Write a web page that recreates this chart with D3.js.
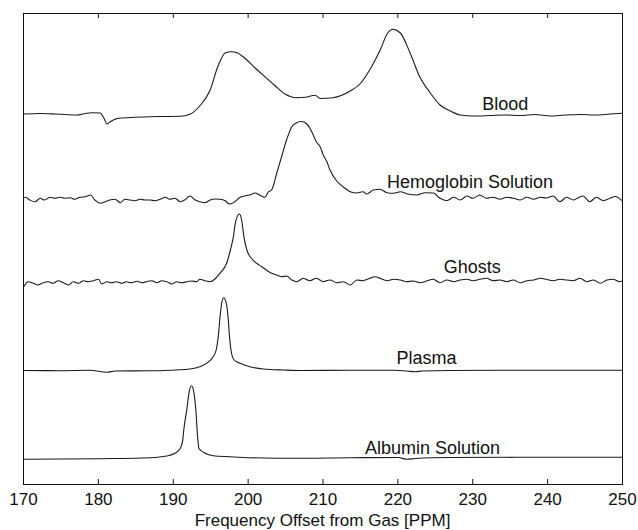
<!DOCTYPE html>
<html>
<head>
<meta charset="utf-8">
<script src="https://cdn.jsdelivr.net/npm/d3@7"></script>
<style>
  body { margin: 0; background: #fff; }
  text { font-family: Arial, "Liberation Sans", Helvetica, sans-serif; fill: #111; }
</style>
</head>
<body>
<div id="chart"></div>
<script>
// spectra: ppm positions and intensity above each trace's baseline
var bloodPpm = [170.0, 172.3, 174.3, 175.6, 177.2, 178.3, 179.2, 180.3, 180.8, 181.2, 181.6, 182.6, 184.3, 187.0, 189.0, 191.0, 192.3, 193.6, 195.0, 196.0, 197.0, 197.8, 198.6, 199.6, 201.0, 202.3, 203.7, 205.0, 206.5, 207.7, 209.0, 209.7, 211.4, 213.7, 215.0, 216.3, 217.7, 218.7, 219.4, 220.4, 221.7, 223.0, 224.4, 225.7, 227.0, 228.4, 230.1, 232.4, 234.4, 236.4, 238.4, 240.4, 242.4, 244.4, 246.4, 248.4, 250.0];
var bloodVal = [0, 0.05, 0, -0.05, -0.1, 0.05, 0.13, 0.1, -0.4, -1.0, -0.8, -0.45, -0.35, -0.27, -0.25, -0.23, -0.03, 0.8, 2.4, 4.7, 6.1, 6.23, 6.13, 5.6, 4.6, 3.73, 2.8, 2.0, 1.63, 1.67, 1.87, 1.55, 1.63, 2.3, 3.0, 4.4, 6.4, 8.1, 8.47, 8.1, 6.1, 3.7, 2.1, 0.9, 0.33, -0.1, -0.2, -0.15, -0.1, -0.15, -0.05, -0.2, -0.1, -0.05, -0.1, 0, 0.07];

var hemoPpm = [170.0, 170.3, 170.9, 171.6, 172.3, 172.9, 173.6, 174.3, 174.9, 175.6, 176.3, 176.9, 177.6, 178.3, 179.0, 179.6, 180.3, 181.0, 181.6, 182.3, 183.0, 183.6, 184.3, 185.0, 185.6, 186.3, 187.0, 187.6, 188.3, 189.0, 189.6, 190.3, 191.0, 191.6, 192.3, 193.0, 193.6, 194.3, 195.0, 195.6, 196.3, 197.0, 197.6, 198.3, 199.0, 199.6, 200.3, 201.0, 201.6, 202.3, 202.8, 203.2, 203.9, 204.6, 205.2, 205.9, 206.5, 207.0, 207.4, 207.9, 208.3, 208.7, 209.2, 209.7, 210.1, 210.6, 211.0, 211.9, 212.8, 213.7, 214.6, 215.4, 215.9, 216.8, 217.7, 218.6, 219.5, 220.4, 221.4, 222.6, 223.7, 224.8, 225.7, 226.6, 227.5, 228.4, 229.3, 230.1, 231.0, 231.9, 232.8, 233.7, 234.6, 235.5, 236.4, 237.3, 238.2, 239.1, 239.9, 240.8, 241.7, 242.6, 243.5, 244.1, 244.8, 245.7, 246.6, 247.5, 248.4, 249.1, 250.0];
var hemoVal = [0.1, 0.17, -0.1, -0.27, 0.07, -0.1, 0.17, 0.07, 0.17, 0.07, 0.13, -0.03, 0.17, 0.23, 0.4, -0.1, -0.43, -0.27, -0.1, -0.03, -0.37, -0.03, -0.1, -0.17, -0.03, -0.1, -0.1, -0.17, -0.03, 0.17, -0.03, 0.07, -0.27, -0.1, 0.3, -0.1, -0.27, -0.37, -0.1, 0, -0.03, -0.17, -0.5, -0.27, 0.17, 0.3, 0.4, 0.6, 0.4, 0.17, 0.73, 0.9, 2.6, 4.4, 5.9, 7.23, 7.6, 7.75, 7.73, 7.5, 7.1, 6.5, 5.7, 5.2, 4.4, 3.7, 2.9, 1.8, 1.2, 0.73, 0.6, 0.73, 0.5, 0.9, 0.97, 0.63, 0.57, 0.73, 0.5, 0.4, 0.63, 0.6, 0.07, -0.17, 0.17, -0.1, 0.3, 0.07, 0.4, 0.07, 0.17, -0.03, 0.17, 0.07, -0.1, 0.17, -0.03, 0.17, 0.1, 0.3, -0.27, 0.17, -0.1, 0.1, 0.3, -0.27, 0.17, -0.17, 0.07, 0.25, -0.17];

var ghostPpm = [170.1, 170.7, 171.4, 172.0, 172.7, 173.4, 174.0, 174.7, 175.4, 176.1, 176.7, 177.4, 178.1, 178.7, 179.4, 180.1, 180.5, 181.2, 181.8, 182.5, 183.2, 183.8, 184.5, 185.2, 185.9, 186.5, 187.2, 187.9, 188.5, 189.2, 189.9, 190.5, 191.2, 191.9, 192.5, 193.2, 193.6, 194.3, 195.0, 195.6, 196.3, 197.2, 197.7, 198.1, 198.4, 198.9, 199.2, 199.5, 199.9, 200.5, 201.2, 201.9, 202.5, 203.2, 203.9, 204.6, 205.2, 205.9, 206.6, 207.4, 208.3, 209.2, 210.1, 211.0, 211.9, 212.8, 213.7, 214.6, 215.4, 216.3, 217.0, 217.7, 218.6, 219.5, 220.4, 221.2, 222.1, 223.0, 223.9, 224.8, 225.7, 226.6, 227.5, 228.4, 229.3, 230.1, 231.0, 231.9, 232.8, 233.7, 234.6, 235.5, 236.4, 237.3, 238.2, 239.1, 239.9, 240.8, 241.7, 242.6, 243.5, 244.4, 245.3, 246.2, 247.1, 248.0, 248.8, 249.7, 250.0];
var ghostVal = [-0.47, 0.03, -0.13, -0.3, -0.07, 0.03, -0.13, 0.13, -0.07, -0.3, 0.03, -0.13, 0.13, 0.03, 0.13, 0.27, -0.2, 0.03, -0.07, 0.03, -0.13, 0.03, -0.07, 0.07, -0.07, 0.03, 0.13, -0.07, 0.13, 0.03, -0.2, 0.03, -0.07, 0.03, 0.1, 0.03, 0.27, 0.13, 0.03, 0.27, 0.87, 1.87, 3.2, 4.53, 6.03, 6.8, 6.2, 4.53, 3.2, 2.37, 1.87, 1.53, 1.2, 0.87, 0.7, 0.53, 0.6, 0.2, 0.03, 0.37, 0.13, 0.37, 0.03, 0.2, -0.07, 0.03, -0.3, 0.2, 0.13, 0.37, 0.53, 0.37, 0.13, 0.27, 0.2, 0.03, 0.1, -0.07, 0.1, 0.27, -0.07, 0.2, 0.03, 0.2, 0.27, 0.13, 0.27, 0.37, 0.13, 0.2, 0.03, 0.2, -0.07, 0.13, 0.2, 0.37, 0.27, 0.13, 0.27, 0.2, 0.13, 0.37, 0.03, 0.2, -0.13, 0.2, 0.27, 0.03, 0.1];

var plasmaPpm = [170.0, 174.9, 178.9, 181.2, 182.3, 187.0, 190.5, 192.3, 193.6, 194.7, 195.4, 195.8, 196.1, 196.3, 196.5, 196.8, 197.2, 197.4, 197.6, 197.9, 198.2, 199.0, 200.3, 202.1, 204.8, 207.0, 213.7, 219.7, 221.4, 222.4, 223.3, 227.0, 233.7, 241.7, 250.0];
var plasmaVal = [0, -0.02, 0.02, -0.18, -0.05, -0.03, 0.05, 0.15, 0.38, 0.82, 1.38, 2.05, 3.55, 5.22, 6.55, 7.28, 6.55, 5.22, 3.22, 1.55, 1.05, 0.72, 0.38, 0.15, 0.05, 0, 0.02, 0.02, -0.07, -0.12, -0.05, 0, 0.02, 0.02, 0.03];

var albuminPpm = [170.0, 180.3, 187.0, 189.2, 190.3, 191.0, 191.3, 191.5, 191.9, 192.2, 192.5, 192.8, 193.1, 193.3, 193.5, 194.1, 195.4, 197.6, 200.3, 206.6, 213.7, 220.1, 221.3, 222.4, 227.0, 236.4, 250.0];
var albuminVal = [-0.08, -0.02, 0.08, 0.25, 0.52, 1.02, 1.68, 3.02, 5.02, 6.68, 7.28, 6.68, 4.68, 2.35, 1.02, 0.62, 0.28, 0.18, 0.08, 0.02, 0.08, 0.1, -0.08, 0, 0.1, 0.12, 0.12];

var seriesNames = ["Blood", "Hemoglobin Solution", "Ghosts", "Plasma", "Albumin Solution"];
var seriesOffsets = [37.0, 28.5, 20.2, 11.35, 2.55];
var xTicks = [170, 180, 190, 200, 210, 220, 230, 240, 250];
var xTitle = "Frequency Offset from Gas [PPM]";

var svgWidth = 638;
var svgHeight = 530;

var margin = {
    top: 13,
    bottom: 46,
    right: 16,
    left: 23
};

var width = svgWidth - margin.left - margin.right;
var height = svgHeight - margin.top - margin.bottom;

var svg = d3.select("#chart")
    .append("svg")
    .attr("width", svgWidth)
    .attr("height", svgHeight);

var chartGroup = svg.append("g")
    .attr("transform", `translate(${margin.left}, ${margin.top})`);

var xScale = d3.scaleLinear()
    .domain([170, 250])
    .range([0, width]);

var yScale = d3.scaleLinear()
    .domain([0, 47.1])
    .range([height, 0]);

// frame
chartGroup.append("rect")
    .attr("x", 0.5)
    .attr("y", 0.5)
    .attr("width", width)
    .attr("height", height)
    .attr("fill", "none")
    .attr("stroke", "#111")
    .attr("stroke-width", 1);

var bottomAxis = d3.axisBottom(xScale)
    .tickValues(xTicks)
    .tickSizeInner(-5)
    .tickSizeOuter(0)
    .tickPadding(9);

var topAxis = d3.axisTop(xScale)
    .tickValues(xTicks)
    .tickSizeInner(-5)
    .tickSizeOuter(0)
    .tickFormat("");

var xAxis = chartGroup.append("g")
    .attr("transform", `translate(0, ${height})`)
    .call(bottomAxis);

chartGroup.append("g")
    .call(topAxis);

chartGroup.selectAll(".domain").remove();
chartGroup.selectAll(".tick line").attr("stroke", "#111");

xAxis.selectAll("text")
    .style("font-size", "17px")
    .style("font-family", "Arial, 'Liberation Sans', sans-serif")
    .attr("fill", "#111");

chartGroup.append("text")
    .attr("x", width / 2)
    .attr("y", height + 41.5)
    .attr("text-anchor", "middle")
    .style("font-size", "17px")
    .text(xTitle);

var spectra = [
    [bloodPpm, bloodVal],
    [hemoPpm, hemoVal],
    [ghostPpm, ghostVal],
    [plasmaPpm, plasmaVal],
    [albuminPpm, albuminVal]
];

var line = d3.line()
    .x(d => xScale(d[0]))
    .y(d => yScale(d[1]))
    .curve(d3.curveMonotoneX);

spectra.forEach(function (s, i) {
    var pts = s[0].map((p, j) => [p, s[1][j] + seriesOffsets[i]]);
    chartGroup.append("path")
        .datum(pts)
        .attr("fill", "none")
        .attr("stroke", "#1a1a1a")
        .attr("stroke-width", 1.1)
        .attr("d", line);
});

// label placement (ppm of label centre, pixels above baseline)
var labelAt = [[234.4, 4], [229.7, 11], [230.0, 9], [223.9, 6.5], [224.7, 4.2]];

chartGroup.selectAll(".specLabel")
    .data(seriesNames)
    .enter()
    .append("text")
    .attr("class", "specLabel")
    .attr("x", (d, i) => xScale(labelAt[i][0]))
    .attr("y", (d, i) => yScale(seriesOffsets[i]) - labelAt[i][1])
    .attr("text-anchor", "middle")
    .style("font-size", "18px")
    .text(d => d);
</script>
</body>
</html>
